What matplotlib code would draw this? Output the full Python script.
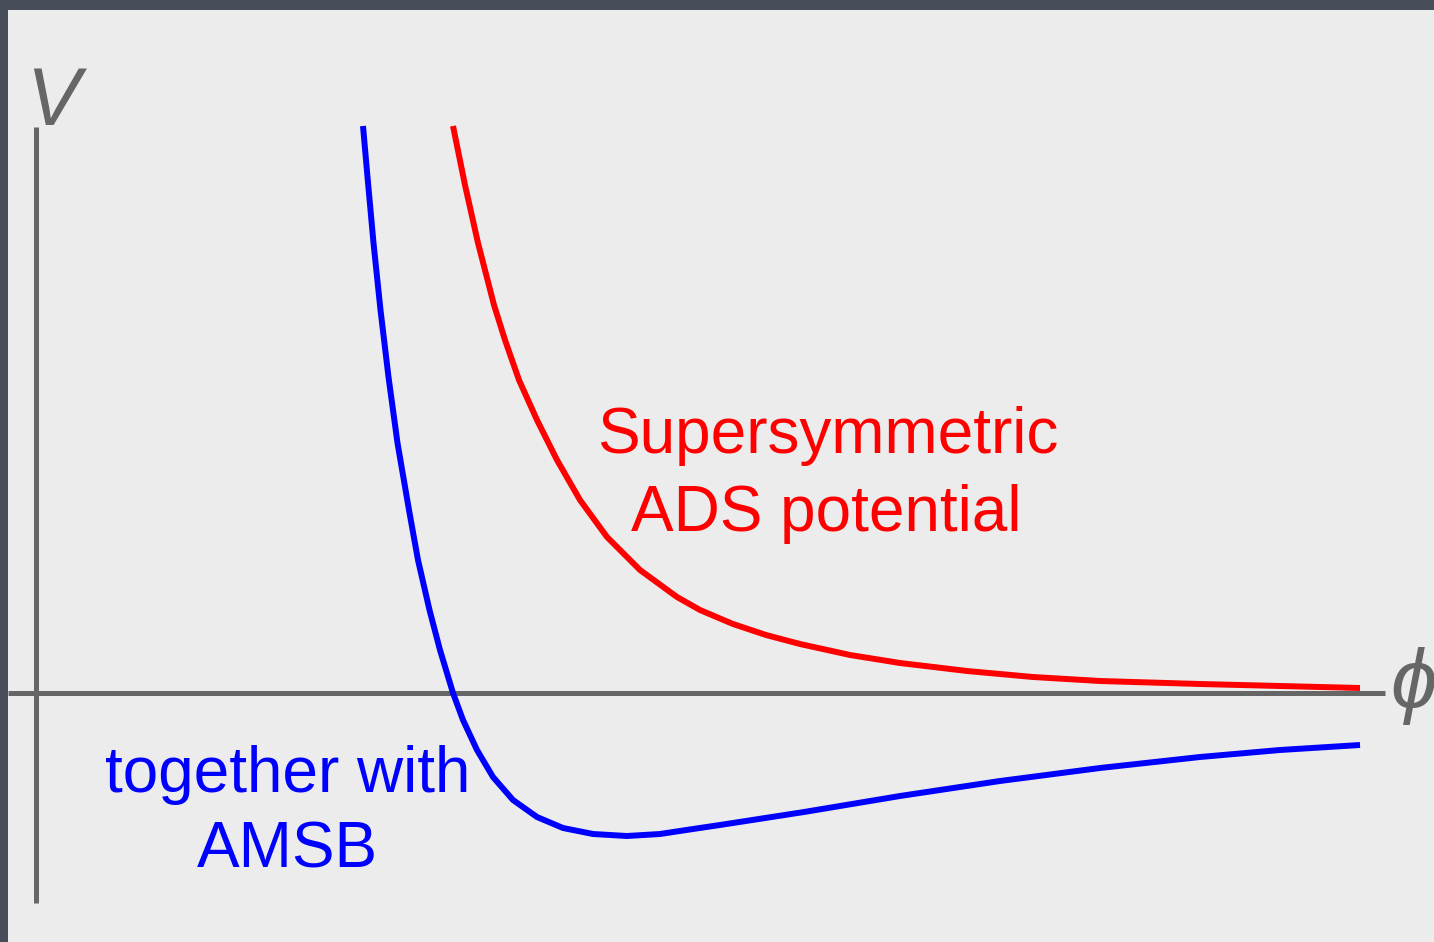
import matplotlib
matplotlib.use('Agg')
import matplotlib.pyplot as plt
from matplotlib.patches import Rectangle

# potential curves (phi, V in arbitrary units)
phi_amsb = [3.27, 3.315, 3.375, 3.445, 3.525, 3.615, 3.73, 3.82, 3.935, 4.04, 4.17,
            4.27, 4.41, 4.57, 4.77, 5.01, 5.27, 5.57, 5.91, 6.24, 6.57, 6.84,
            7.68, 8.64, 9.64, 10.64, 11.64, 12.44, 13.24]
v_amsb = [5.67, 5.16, 4.50, 3.83, 3.16, 2.50, 1.83, 1.33, 0.83, 0.43, 0.00,
          -0.27, -0.57, -0.84, -1.07, -1.24, -1.35, -1.41, -1.43, -1.41, -1.36, -1.32,
          -1.19, -1.03, -0.88, -0.75, -0.64, -0.57, -0.52]

phi_ads = [4.17, 4.29, 4.42, 4.58, 4.69, 4.83, 5.01, 5.21, 5.44, 5.71, 6.04, 6.41,
           6.64, 6.97, 7.30, 7.64, 8.14, 8.64, 9.31, 9.97, 10.64, 11.64, 12.44, 13.24]
v_ads = [5.67, 5.08, 4.50, 3.88, 3.53, 3.13, 2.73, 2.33, 1.93, 1.56, 1.23, 0.96,
         0.83, 0.69, 0.58, 0.49, 0.38, 0.30, 0.22, 0.16, 0.12, 0.09, 0.07, 0.05]

gray = '#666666'
fam = ['Liberation Sans', 'DejaVu Sans']

fig = plt.figure(figsize=(14.34, 9.42), dpi=100, facecolor='#474d59')
ax = fig.add_axes([0, 0, 1, 1])
ax.set_xlim(-0.36, 13.98)
ax.set_ylim(-2.49, 6.93)
ax.axis('off')

# light slide panel
ax.add_patch(Rectangle((8/1434., 0), 1, (942-10)/942., transform=fig.transFigure,
                       facecolor='#ececec', edgecolor='none', zorder=0, clip_on=False))

# axes
ax.plot([0, 0], [-2.10, 5.66], color=gray, lw=3.6, solid_capstyle='butt', zorder=2)
ax.plot([-0.28, 13.49], [0, 0], color=gray, lw=3.6, solid_capstyle='butt', zorder=2)
ax.text(0.17, 5.68, 'V', color=gray, fontsize=58, style='italic', family=fam,
        ha='center', va='baseline')
ax.text(13.54, 0.07, '\u03d5', color=gray, fontsize=60, style='italic', family=fam,
        ha='left', va='center')

# curves
ax.plot(phi_amsb, v_amsb, color='#0000ff', lw=4.3, solid_capstyle='butt',
        solid_joinstyle='round', zorder=3)
ax.plot(phi_ads, v_ads, color='#ff0000', lw=4.3, solid_capstyle='butt',
        solid_joinstyle='round', zorder=3)

# labels
ax.text(7.915, 2.40, 'Supersymmetric', color='#ff0000', fontsize=46, family=fam,
        ha='center', va='baseline')
ax.text(7.905, 1.62, 'ADS potential', color='#ff0000', fontsize=46, family=fam,
        ha='center', va='baseline')
ax.text(2.52, -0.99, 'together with', color='#0000ff', fontsize=46, family=fam,
        ha='center', va='baseline')
ax.text(2.515, -1.75, 'AMSB', color='#0000ff', fontsize=46, family=fam,
        ha='center', va='baseline')

fig.savefig('out.png', dpi=100, facecolor=fig.get_facecolor())
